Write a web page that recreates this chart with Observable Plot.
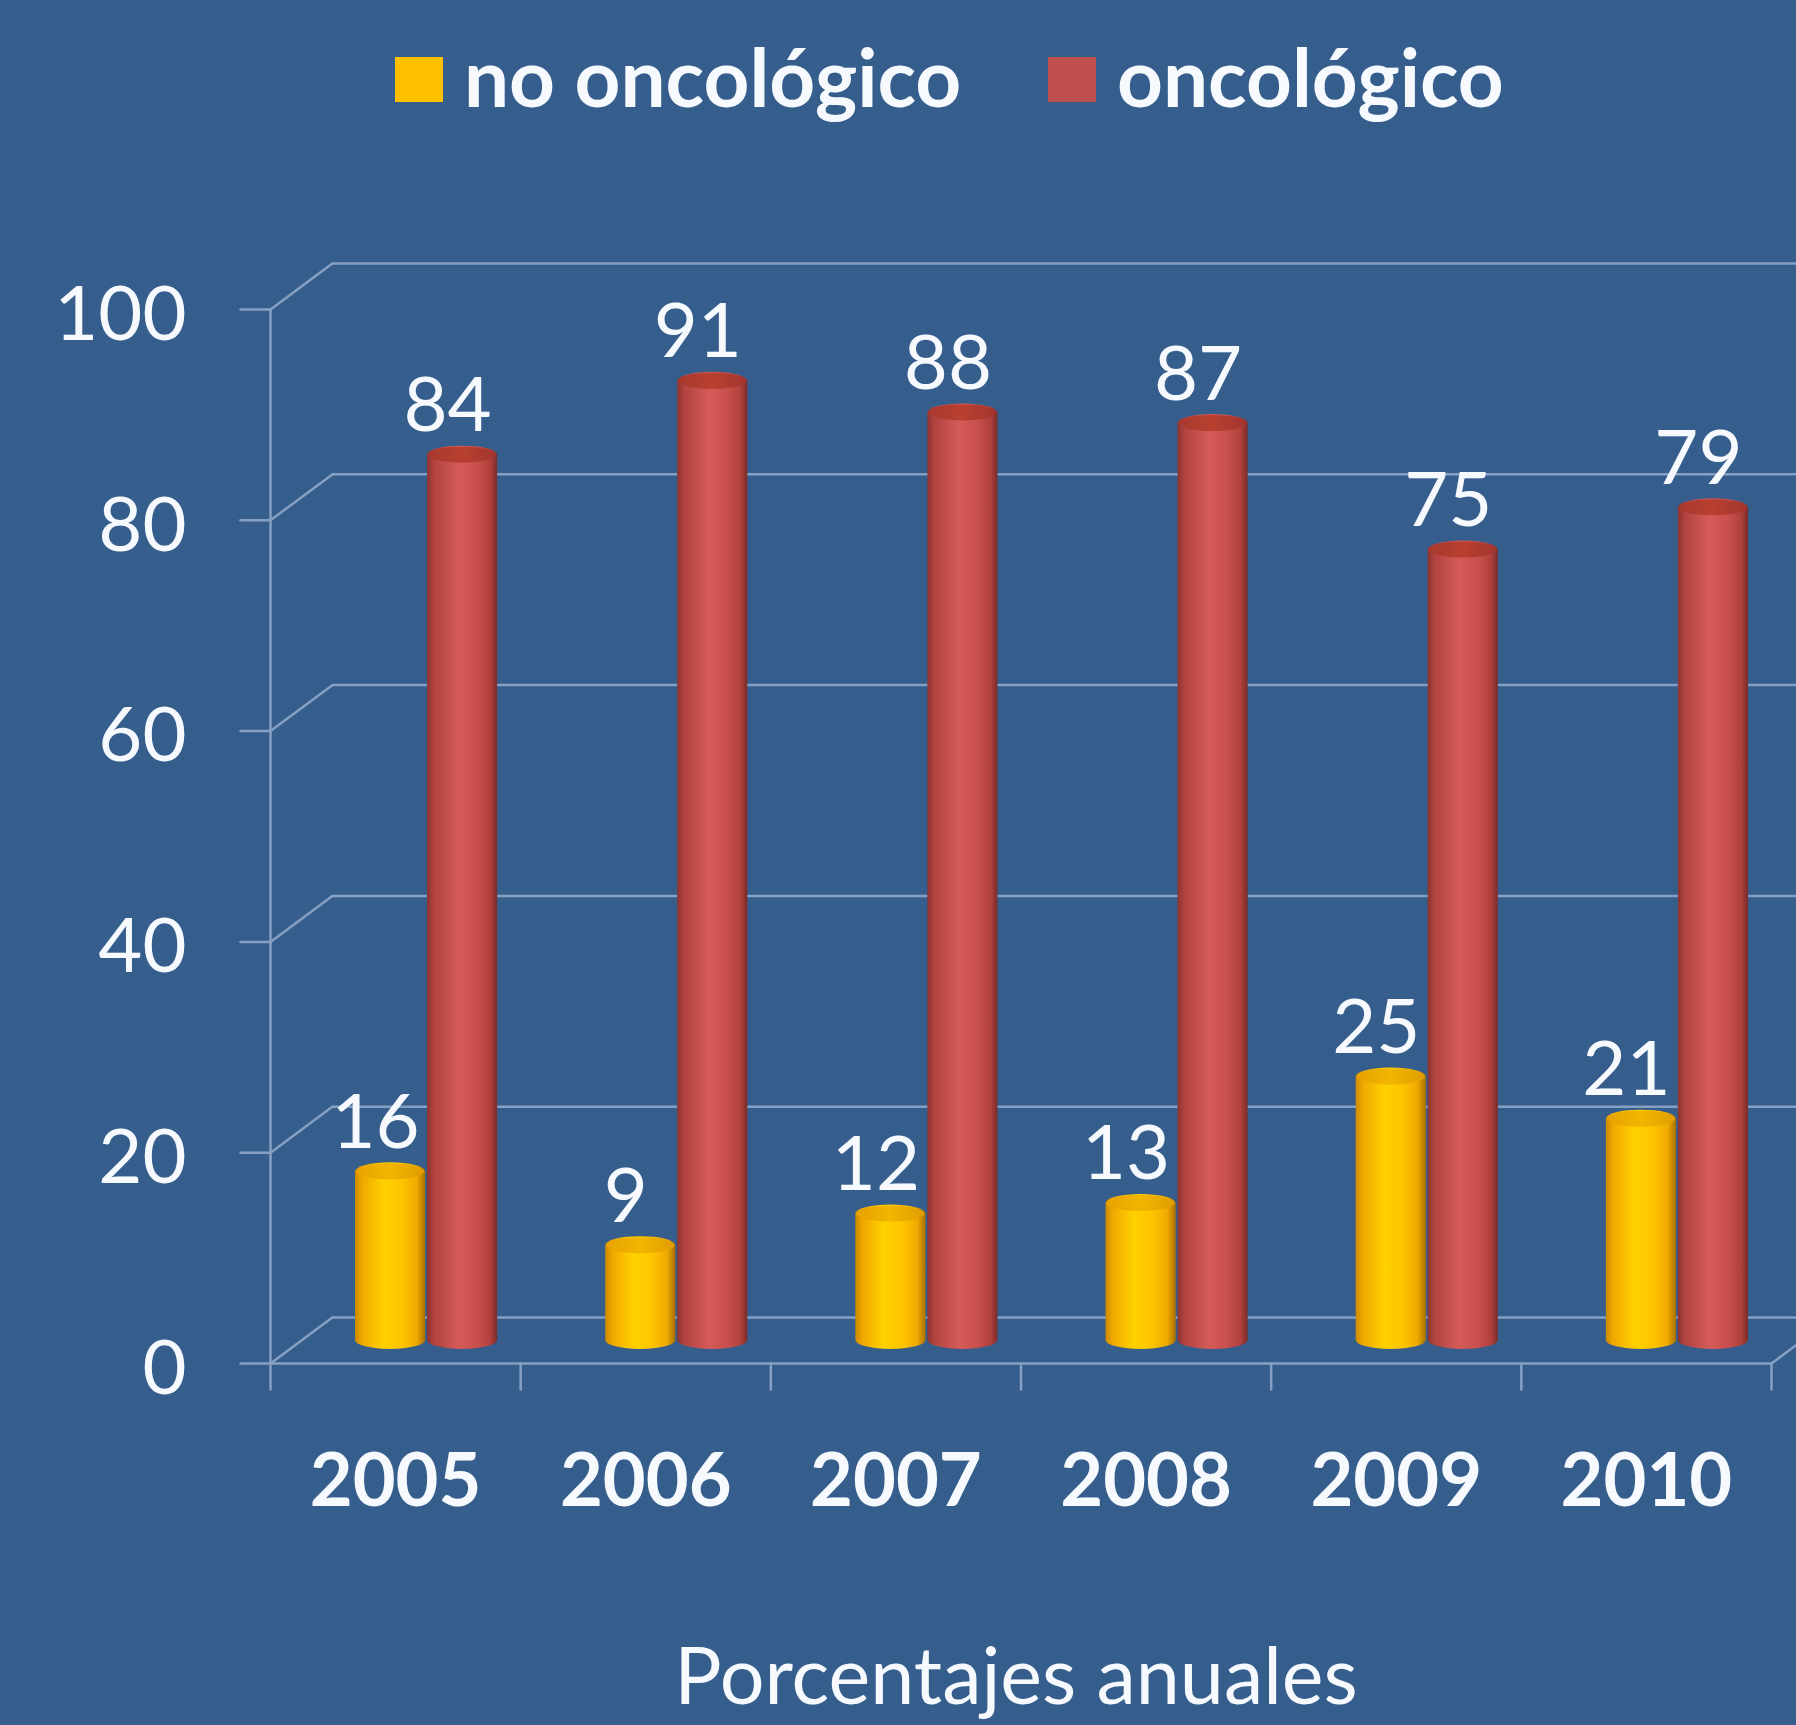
<!DOCTYPE html>
<html>
<head>
<meta charset="utf-8">
<script src="https://cdn.jsdelivr.net/npm/d3@7"></script>
<script src="https://cdn.jsdelivr.net/npm/@observablehq/plot@0.6"></script>
<style>
  html, body { margin: 0; padding: 0; background: #365E8C; }
  body { width: 1796px; height: 1725px; overflow: hidden; font-family: Lato, "Open Sans", sans-serif; color: #F6F9FD; }
  #legend { position: relative; height: 180px; }
  .sw { position: absolute; width: 48px; height: 45px; top: 57px; }
  .lt { position: absolute; top: 36px; font-weight: 700; font-size: 80px; line-height: 1; white-space: nowrap; }
  #chart svg { display: block; }
  #caption { position: relative; height: 145px; }
  #caption div { position: absolute; top: 54px; left: 1016px; transform: translateX(-50%); font-size: 79px; line-height: 1; white-space: nowrap; }
</style>
</head>
<body>
<div id="legend"></div>
<div id="chart"></div>
<div id="caption"></div>
<script>
// ---- data ----
const years = [2005, 2006, 2007, 2008, 2009, 2010];
const noOncologico = [16, 9, 12, 13, 25, 21];
const oncologico = [84, 91, 88, 87, 75, 79];
const yTicks = [0, 20, 40, 60, 80, 100];
const seriesNames = ["no oncológico", "oncológico"];
const seriesColors = ["#FFC000", "#C0504D"];
const captionText = "Porcentajes anuales";

// ---- legend (HTML, above) ----
const legend = document.getElementById("legend");
const legendPos = [[395, 464], [1048, 1117]];
seriesNames.forEach((name, k) => {
  const sw = document.createElement("div");
  sw.className = "sw";
  sw.style.left = legendPos[k][0] + "px";
  sw.style.background = seriesColors[k];
  legend.appendChild(sw);
  const t = document.createElement("div");
  t.className = "lt";
  t.style.left = legendPos[k][1] + "px";
  t.textContent = name;
  legend.appendChild(t);
});

// ---- caption (HTML, below) ----
const cap = document.createElement("div");
cap.textContent = captionText;
document.getElementById("caption").appendChild(cap);

// ---- chart ----
const rowsNo = years.map((year, i) => ({i, year, v: noOncologico[i]}));
const rowsOn = years.map((year, i) => ({i, year, v: oncologico[i]}));
const grid = "#86A0C3";
const white = "#F6F9FD";
const lineShape = {draw(context, l) { context.moveTo(0, 0); context.lineTo(0, -l); }};
const depthLen = 77, depthAngle = 53.4;

const svg = Plot.plot({
  width: 1796,
  height: 1400,
  marginLeft: 270,
  marginRight: 25,
  marginTop: 0,
  marginBottom: 0,
  style: {background: "transparent", fontFamily: "Lato, 'Open Sans', sans-serif", color: white, overflow: "hidden"},
  x: {domain: [0, years.length], range: [270, 1771], axis: null},
  y: {domain: [0, 100], range: [1160, 106], axis: null},
  marks: [
    // back wall gridlines
    Plot.ruleY(yTicks, {y: d => d, dx: 62, dy: -23, stroke: grid, strokeWidth: 2.5}),
    // side wall slanted lines
    Plot.vector(yTicks, {x: () => 0, y: d => d, dy: 23, length: depthLen, rotate: depthAngle, anchor: "start", shape: lineShape, stroke: grid, strokeWidth: 2.5}),
    Plot.vector([years.length], {x: d => d, y: () => 0, dy: 23, length: depthLen, rotate: depthAngle, anchor: "start", shape: lineShape, stroke: grid, strokeWidth: 2.5}),
    // front axis line and baseline
    Plot.ruleX([0], {x: d => d, y1: () => 0, y2: () => 100, dy: 23, stroke: grid, strokeWidth: 2.5}),
    Plot.ruleY([0], {y: d => d, dy: 23, stroke: grid, strokeWidth: 2.5}),
    // y ticks
    Plot.vector(yTicks, {x: () => 0, y: d => d, dy: 23, length: 30, rotate: -90, anchor: "start", shape: lineShape, stroke: grid, strokeWidth: 2.5}),
    // x ticks
    Plot.vector(d3.range(years.length + 1), {x: d => d, y: () => 0, dy: 23, length: 26, rotate: 180, anchor: "start", shape: lineShape, stroke: grid, strokeWidth: 2.5}),
    // cylinders: no oncológico
    Plot.rectY(rowsNo, {x: "i", interval: 1, y1: () => 0, y2: "v", insetLeft: 85, insetRight: 95, insetTop: -9, insetBottom: -9, rx: 35, ry: 9, fill: "url(#gradY)"}),
    Plot.rectY(rowsNo, {x: "i", interval: 1, y1: "v", y2: "v", insetLeft: 86, insetRight: 96, insetTop: -8, insetBottom: -8, rx: 34, ry: 8, fill: "url(#capY)"}),
    // cylinders: oncológico
    Plot.rectY(rowsOn, {x: "i", interval: 1, y1: () => 0, y2: "v", insetLeft: 157, insetRight: 23, insetTop: -9, insetBottom: -9, rx: 35, ry: 9, fill: "url(#gradR)"}),
    Plot.rectY(rowsOn, {x: "i", interval: 1, y1: "v", y2: "v", insetLeft: 158, insetRight: 24, insetTop: -8, insetBottom: -8, rx: 34, ry: 8, fill: "url(#capR)"}),
    // value labels
    Plot.text(rowsNo, {x: d => d.i + 0.5, y: "v", text: d => String(d.v), dx: -20, dy: -24, lineAnchor: "bottom", fontSize: 76, fill: white}),
    Plot.text(rowsOn, {x: d => d.i + 0.5, y: "v", text: d => String(d.v), dx: 52, dy: -24, lineAnchor: "bottom", fontSize: 76, fill: white}),
    // year labels
    Plot.text(years, {x: (d, i) => i + 0.5, y: () => 0, text: d => String(d), dy: 165, lineAnchor: "bottom", fontSize: 74, fontWeight: 700, fill: white}),
    // y tick labels
    Plot.text(yTicks, {x: () => 0, y: d => d, text: d => String(d), dx: -84, dy: 29, textAnchor: "end", lineAnchor: "middle", fontSize: 76, fill: white})
  ]
});

// gradients for cylinder shading
const defs = d3.select(svg).insert("defs", ":first-child");
function grad(id, stops) {
  const g = defs.append("linearGradient").attr("id", id).attr("x1", "0").attr("x2", "1").attr("y1", "0").attr("y2", "0");
  stops.forEach(([o, c]) => g.append("stop").attr("offset", o).attr("stop-color", c));
}
grad("gradY", [[0, "#C98A00"], [0.1, "#F0A800"], [0.4, "#FFD000"], [0.65, "#FFC600"], [0.88, "#EFAA00"], [1, "#A87000"]]);
grad("capY", [[0, "#E6A200"], [0.5, "#F2B600"], [1, "#E09C00"]]);
grad("gradR", [[0, "#8A3330"], [0.1, "#B2433F"], [0.45, "#D45B59"], [0.7, "#CA504D"], [0.9, "#B0413D"], [1, "#7A2B28"]]);
grad("capR", [[0, "#A8382F"], [0.5, "#B8402F"], [1, "#A33530"]]);

document.getElementById("chart").appendChild(svg);
</script>
</body>
</html>
